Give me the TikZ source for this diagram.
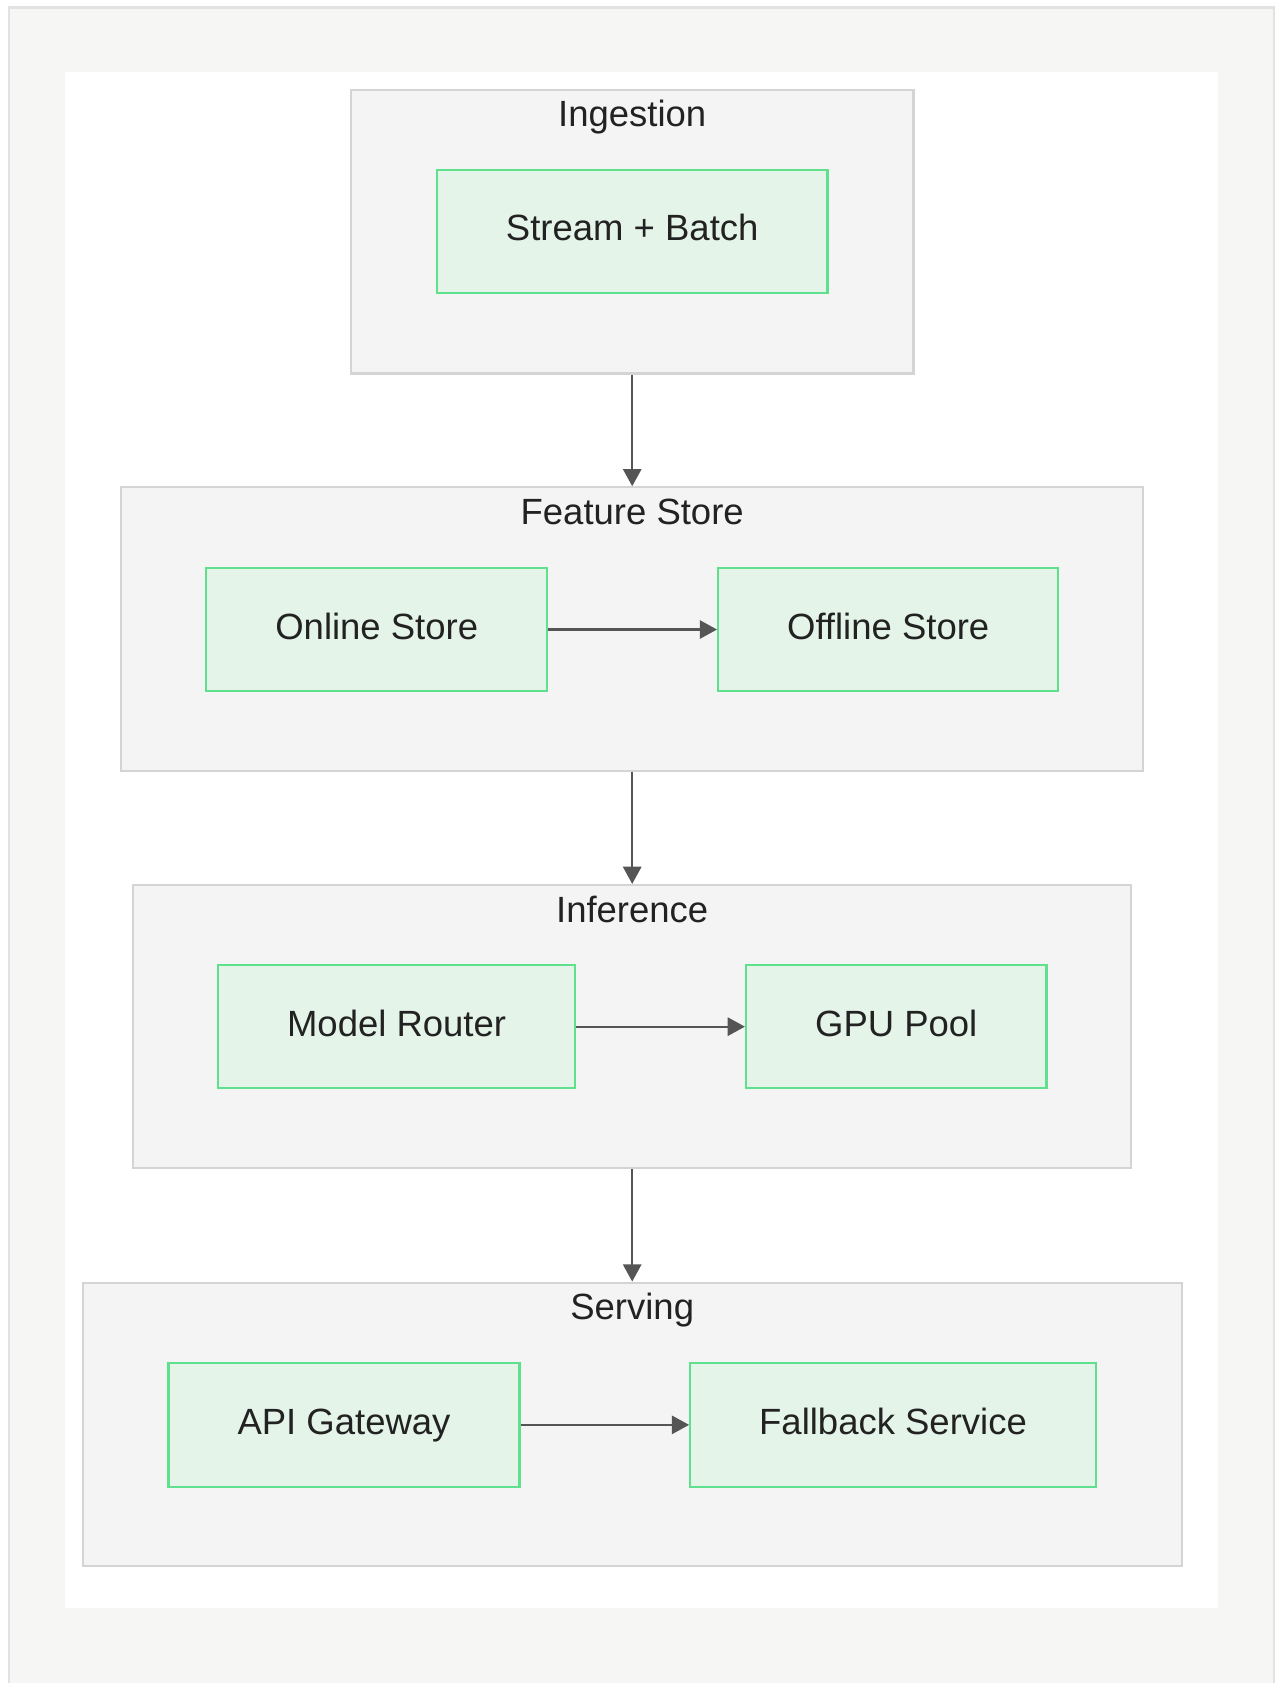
\documentclass[tikz,border=0pt]{standalone}
\usepackage{fontspec}
\setmainfont{Liberation Sans}
\usepackage{xcolor}
\usepackage{tikz}
\usetikzlibrary{arrows.meta,positioning}

\definecolor{framebg}{HTML}{F6F6F4}
\definecolor{frameline}{HTML}{E2E2E2}
\definecolor{groupbg}{HTML}{F4F4F4}
\definecolor{groupline}{HTML}{D4D4D4}
\definecolor{stepbg}{HTML}{E4F4E9}
\definecolor{stepline}{HTML}{5EE08C}
\definecolor{linkcol}{HTML}{555555}
\definecolor{txtcol}{HTML}{222222}

\begin{document}
\begin{tikzpicture}[
    x=1pt, y=-1pt,
    groupbox/.style={rectangle, draw=groupline, fill=groupbg, line width=2pt, minimum height=264pt, inner sep=0pt},
    grouptitle/.style={text=txtcol, font=\fontsize{34}{40}\selectfont, inner sep=0pt, text height=24pt, text depth=7pt},
    stepbox/.style={rectangle, draw=stepline, fill=stepbg, line width=2pt, minimum height=115pt, inner sep=0pt, text height=24pt, text depth=6pt, text=txtcol, font=\fontsize{34}{40}\selectfont},
    link/.style={draw=linkcol, line width=2pt, -{Triangle[length=16pt, width=17pt]}}
]
\useasboundingbox (0,0) rectangle (1189,1568);
% page frame
\draw[fill=framebg, draw=frameline, line width=2pt] (8,7) rectangle (1187,1590);
\fill[white] (61,67) rectangle (1135,1498);

% groups
\node[groupbox, minimum width=524pt] (ingest) at (589,216) {};
\node[groupbox, minimum width=952pt] (feature) at (589,586) {};
\node[groupbox, minimum width=930pt] (infer) at (589,956.5) {};
\node[groupbox, minimum width=1024pt] (serve) at (589,1327) {};

\node[grouptitle] (ingestT) at (589,109.5) {Ingestion};
\node[grouptitle] (featureT) at (589,480.5) {Feature Store};
\node[grouptitle] (inferT) at (589,850.5) {Inference};
\node[grouptitle] (serveT) at (589,1221) {Serving};

% steps
\node[stepbox, minimum width=364pt] (batch) at (589,215.5) {Stream + Batch};
\node[stepbox, minimum width=318pt] (online) at (351,586.5) {Online Store};
\node[stepbox, minimum width=317pt] (offline) at (827.5,586.5) {Offline Store};
\node[stepbox, minimum width=333pt] (router) at (369.5,956.5) {Model Router};
\node[stepbox, minimum width=280pt] (gpu) at (835,956.5) {GPU Pool};
\node[stepbox, minimum width=327pt] (gateway) at (320.5,1327.5) {API Gateway};
\node[stepbox, minimum width=378pt] (fallback) at (832,1327.5) {Fallback Service};

% links
\draw[link] (ingest) -- (feature);
\draw[link] (feature) -- (infer);
\draw[link] (infer) -- (serve);
\draw[link] (online) -- (offline);
\draw[link] (router) -- (gpu);
\draw[link] (gateway) -- (fallback);
\end{tikzpicture}
\end{document}
